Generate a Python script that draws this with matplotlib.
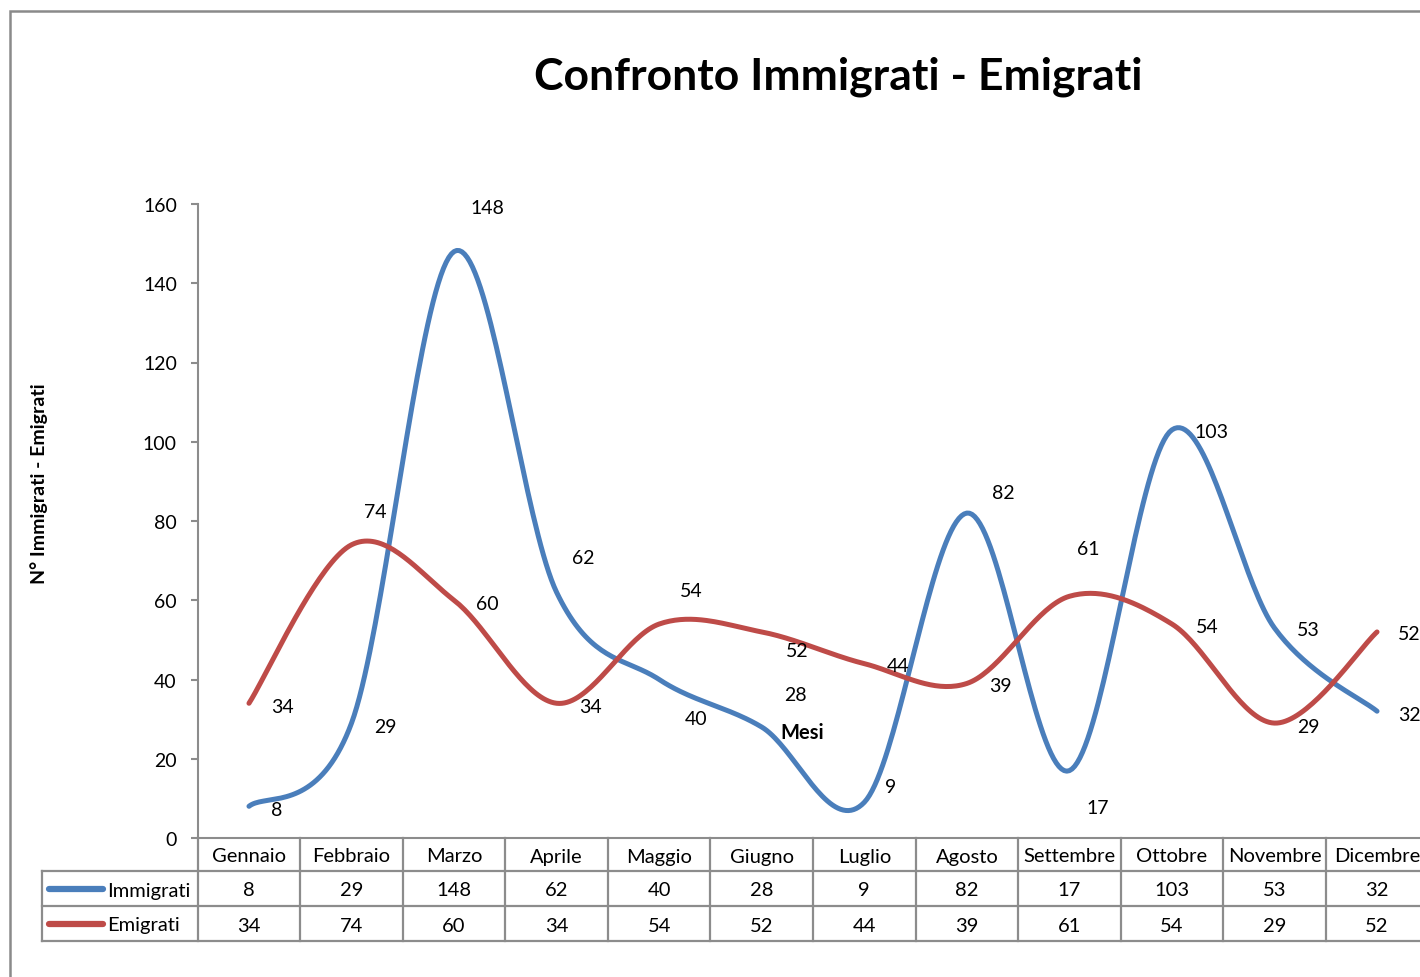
import matplotlib
matplotlib.use("Agg")
import matplotlib.pyplot as plt
from matplotlib.patches import Rectangle
import numpy as np

# ---------------- data ----------------
months = ["Gennaio", "Febbraio", "Marzo", "Aprile", "Maggio", "Giugno",
          "Luglio", "Agosto", "Settembre", "Ottobre", "Novembre", "Dicembre"]
immigrati = [8, 29, 148, 62, 40, 28, 9, 82, 17, 103, 53, 32]
emigrati = [34, 74, 60, 34, 54, 52, 44, 39, 61, 54, 29, 52]
series_names = ["Immigrati", "Emigrati"]
y_ticks = [0, 20, 40, 60, 80, 100, 120, 140, 160]
title = "Confronto Immigrati - Emigrati"
x_title = "Mesi"
y_title = "N° Immigrati - Emigrati"

# label offsets (pixels) for data labels
off_imm = [(28, -1), (34, -1), (33, 46), (27, 37), (37, -37), (34, 35),
           (26, 18), (36, 23), (28, -35), (40, 0), (34, 0), (32, -1)]
off_emi = [(33, -1), (24, 35), (33, -1), (34, -1), (32, 36), (36, -17),
           (34, 0), (34, 0), (19, 50), (35, 0), (34, -1), (32, 0)]

BLUE = "#4A7EBB"
RED = "#BE4B48"
GRID = "#8C8C8C"
FONT = "Lato"

W, H = 1420, 978
fig = plt.figure(figsize=(W / 100, H / 100), dpi=100)
plt.rcParams['font.family'] = [FONT, 'DejaVu Sans']


def fx(x):
    return x / W


def fy(y):
    return 1 - y / H


# outer chart border
fig.patches.append(Rectangle((fx(10), fy(1100)), fx(1500), fy(12) - fy(1100),
                             transform=fig.transFigure, fill=False,
                             edgecolor="#8A8A8A", linewidth=1.8, clip_on=False))

# main axes
ax_left, ax_right, ax_top, ax_bot = 197.7, 1428.3, 205, 839
ax = fig.add_axes([fx(ax_left), fy(ax_bot), fx(ax_right - ax_left),
                   (ax_bot - ax_top) / H])
n = len(months)
ax.set_xlim(-0.5, n - 0.5)
ax.set_ylim(0, 160)
for s in ["top", "right"]:
    ax.spines[s].set_visible(False)
ax.spines["left"].set_color(GRID)
ax.spines["bottom"].set_color(GRID)
ax.spines["left"].set_linewidth(1.5)
ax.spines["bottom"].set_linewidth(1.5)
ax.set_yticks(y_ticks)
ax.set_yticklabels([str(v) for v in y_ticks], fontsize=14)
ax.tick_params(axis="y", length=5, width=1.5, color=GRID, pad=10)
ax.set_xticks([])
ax.patch.set_alpha(0)


def smooth(xs, ys, steps=40):
    P = np.column_stack([xs, ys]).astype(float)
    out = []
    m = len(P)
    for i in range(m - 1):
        p0 = P[i - 1] if i > 0 else P[i]
        p1 = P[i]
        p2 = P[i + 1]
        p3 = P[i + 2] if i + 2 < m else P[i + 1]
        c1 = p1 + (p2 - p0) / 6.0
        c2 = p2 - (p3 - p1) / 6.0
        t = np.linspace(0, 1, steps)[:, None]
        seg = ((1 - t) ** 3) * p1 + 3 * ((1 - t) ** 2) * t * c1 + \
            3 * (1 - t) * t ** 2 * c2 + t ** 3 * p2
        out.append(seg if i == 0 else seg[1:])
    return np.vstack(out)


xs = np.arange(n)
for vals, col, offs in [(immigrati, BLUE, off_imm), (emigrati, RED, off_emi)]:
    c = smooth(xs, vals)
    ax.plot(c[:, 0], c[:, 1], color=col, lw=3.6, solid_capstyle="round",
            clip_on=False, zorder=3)
    for i, v in enumerate(vals):
        ax.annotate(str(v), (i, v), xytext=(offs[i][0], offs[i][1] - 2),
                    textcoords="offset pixels", ha="center", va="center",
                    fontsize=14, zorder=4, annotation_clip=False)

# table axes
tab_left = 42
tab_top, tab_bot = ax_bot, 942
unit = (ax_right - ax_left) / n
extra = (ax_left - tab_left) / unit
tax = fig.add_axes([fx(tab_left), fy(tab_bot), fx(ax_right - tab_left),
                    (tab_bot - tab_top) / H])
tax.set_xlim(-0.5 - extra, n - 0.5)
tax.set_ylim(tab_bot, tab_top)
tax.axis("off")
lw = 1.6
for yy in [872, 907, 942]:
    tax.plot([-0.5 - extra, n - 0.5], [yy, yy], color=GRID, lw=lw, clip_on=False)
for i in range(n + 1):
    tax.plot([i - 0.5, i - 0.5], [tab_top, tab_bot], color=GRID, lw=lw, clip_on=False)
tax.plot([-0.5 - extra, -0.5 - extra], [872, tab_bot], color=GRID, lw=lw, clip_on=False)

TFS = 14.5
for i, mname in enumerate(months):
    tax.text(i, 857, mname, ha="center", va="center", fontsize=TFS, clip_on=False)
    tax.text(i, 891, str(immigrati[i]), ha="center", va="center", fontsize=TFS, clip_on=False)
    tax.text(i, 926, str(emigrati[i]), ha="center", va="center", fontsize=TFS, clip_on=False)

for name, col, yy in [(series_names[0], BLUE, 889.5), (series_names[1], RED, 924.5)]:
    x0 = -0.5 - extra + 7 / unit
    x1 = -0.5 - extra + 61 / unit
    tax.plot([x0, x1], [yy, yy], color=col, lw=4.5, solid_capstyle="round")
    tax.text(-0.5 - extra + 65 / unit, yy + 1.5, name, ha="left", va="center", fontsize=TFS)

# titles
fig.text(fx(838), fy(77), title, ha="center", va="center", fontsize=32,
         fontweight="bold")
fig.text(fx(802), fy(733), x_title, ha="center", va="center", fontsize=14.5,
         fontweight="bold")
fig.text(fx(39), fy(484), y_title, ha="center", va="center", fontsize=14,
         fontweight="bold", rotation=90)

fig.savefig("out.png", dpi=100)
